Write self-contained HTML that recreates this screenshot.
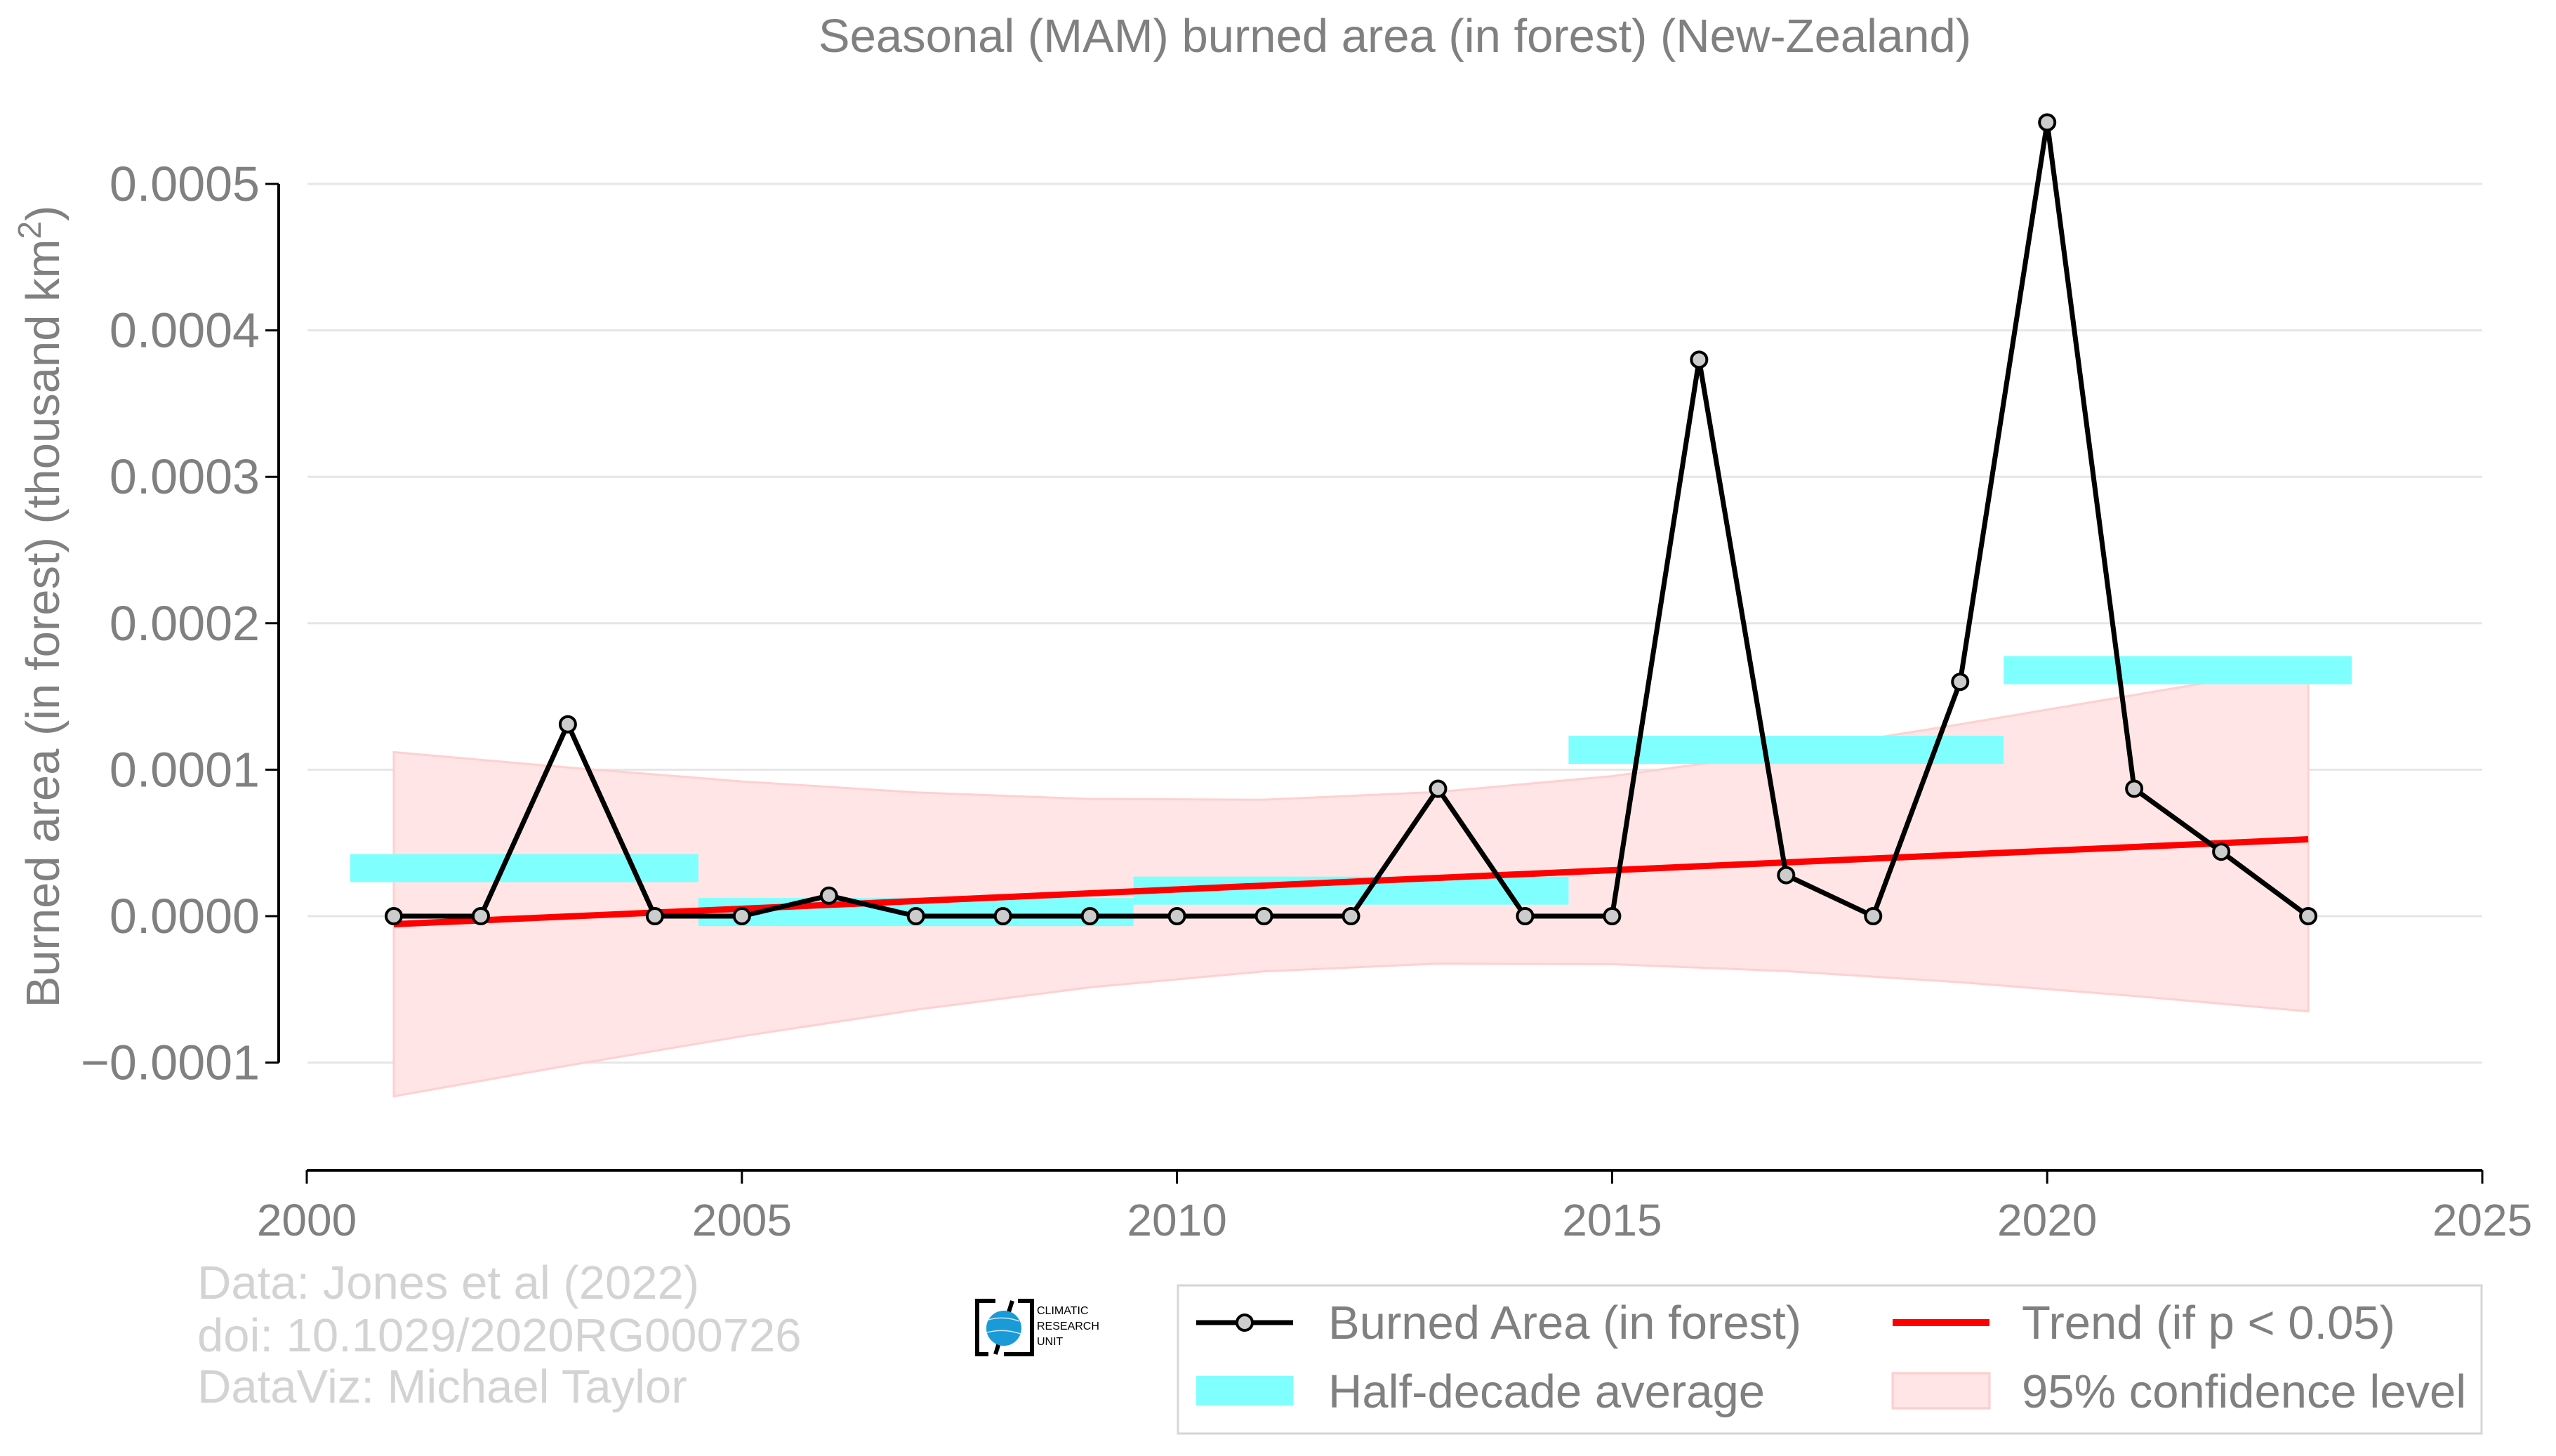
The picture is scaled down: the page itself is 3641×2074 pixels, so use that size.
<!DOCTYPE html>
<html><head><meta charset="utf-8"><style>
html,body{margin:0;padding:0;background:#fff}
svg{display:block;font-family:"Liberation Sans",Arial,sans-serif}
</style></head><body>
<svg id="chart" width="3641" height="2074" viewBox="0 0 3641 2074" xmlns="http://www.w3.org/2000/svg">
<rect width="3641" height="2074" fill="#fff"/>
<text x="1987" y="74" font-size="67" fill="#808080" text-anchor="middle">Seasonal (MAM) burned area (in forest) (New-Zealand)</text>
<g id="grid"></g>
<g id="band"></g>
<g id="halfdec"></g>
<g id="trend"></g>
<g id="series"></g>
<g id="axes"></g>
<text transform="translate(84,864) rotate(-90)" font-size="67" fill="#808080" text-anchor="middle">Burned area (in forest) (thousand km<tspan baseline-shift="super" font-size="46">2</tspan>)</text>
<g font-size="67" fill="#d3d3d3">
<text x="281" y="1850">Data: Jones et al (2022)</text>
<text x="281" y="1925">doi: 10.1029/2020RG000726</text>
<text x="281" y="1998">DataViz: Michael Taylor</text>
</g>
<g>
<path d="M1418 1853 H1392 V1929 H1408 M1442 1853 L1418 1929 M1450 1853 H1470 V1929 H1430" fill="none" stroke="#000" stroke-width="6"/>
<circle cx="1430" cy="1892" r="25" fill="#1a9ad6"/>
<path d="M1408 1880 Q1430 1874 1452 1882 M1406 1898 Q1430 1892 1454 1900" stroke="#cfeaf7" stroke-width="1.5" fill="none"/>
<text x="1477" y="1872" font-size="16" fill="#000">CLIMATIC</text>
<text x="1477" y="1894" font-size="16" fill="#000">RESEARCH</text>
<text x="1477" y="1916" font-size="16" fill="#000">UNIT</text>
</g>
<g>
<rect x="1678" y="1831" width="1857" height="211" fill="#fff" stroke="#d6d6d6" stroke-width="3"/>
<g>
<line x1="1704" y1="1884" x2="1842" y2="1884" stroke="#000" stroke-width="7"/>
<circle cx="1773" cy="1884" r="11" fill="#cccccc" stroke="#000" stroke-width="4"/>
<text x="1892" y="1907" font-size="67" fill="#808080">Burned Area (in forest)</text>
</g>
<g>
<line x1="2696" y1="1884" x2="2834" y2="1884" stroke="#ff0000" stroke-width="10"/>
<text x="2880" y="1907" font-size="67" fill="#808080">Trend (if p &lt; 0.05)</text>
</g>
<g>
<rect x="1704" y="1960" width="138" height="42" fill="#80ffff"/>
<text x="1892" y="2005" font-size="67" fill="#808080">Half-decade average</text>
</g>
<g>
<rect x="2696" y="1956" width="138" height="50" fill="#ffe5e5" stroke="#ffcccc" stroke-width="3"/>
<text x="2880" y="2005" font-size="67" fill="#808080">95% confidence level</text>
</g>
</g>
</svg>
<script>
const years = [2001,2002,2003,2004,2005,2006,2007,2008,2009,2010,2011,2012,2013,2014,2015,2016,2017,2018,2019,2020,2021,2022,2023];
const burned = [0,0,0.000131,0,0,0.000014,0,0,0,0,0,0,0.000087,0,0,0.00038,0.000028,0,0.00016,0.000542,0.000087,0.000044,0];
const halfStart = [2000.5,2004.5,2009.5,2014.5,2019.5];
const halfEnd = [2004.5,2009.5,2014.5,2019.5,2023.5];
const halfAvg = [0.0000328,0.0000028,0.0000174,0.0001136,0.000168];
const trendYears = [2001,2023];
const trendVals = [-0.0000055,0.0000525];
const bandYears = [2001,2003,2005,2007,2009,2011,2013,2015,2017,2019,2021,2023];
const bandUpper = [0.000112,0.0001015,0.000092,0.0000845,0.00008,0.0000795,0.0000848,0.0000956,0.000112,0.000131,0.000151,0.000171];
const bandLower = [-0.000123,-0.000102,-0.000082,-0.0000639,-0.0000486,-0.0000377,-0.0000324,-0.0000328,-0.0000375,-0.0000451,-0.0000545,-0.000065];
const yTicks = [-0.0001,0,0.0001,0.0002,0.0003,0.0004,0.0005];
const yTickLabels = ["\u22120.0001","0.0000","0.0001","0.0002","0.0003","0.0004","0.0005"];
const xTicks = [2000,2005,2010,2015,2020,2025];
const xTickLabels = ["2000","2005","2010","2015","2020","2025"];

const NS = "http://www.w3.org/2000/svg";
const X = v => 437 + (v - 2000) * (3536 - 437) / 25;
const Y = v => 1305 - v * 2086000;
function mk(tag, attrs, parent) {
  const e = document.createElementNS(NS, tag);
  for (const k in attrs) e.setAttribute(k, attrs[k]);
  document.getElementById(parent).appendChild(e);
  return e;
}
yTicks.forEach((t) => {
  const g = mk("line", {x1: 438, x2: 3536, y1: Y(t), y2: Y(t), stroke: "#e6e6e6", "stroke-width": 3}, "grid");
  
  
});
let d = "";
bandYears.forEach((yr, i) => { d += (i ? "L" : "M") + X(yr) + " " + Y(bandUpper[i]) + " "; });
for (let i = bandYears.length - 1; i >= 0; i--) d += "L" + X(bandYears[i]) + " " + Y(bandLower[i]) + " ";
d += "Z";
const band = mk("path", {d: d, fill: "#ffe5e5", stroke: "#ffd0d0", "stroke-width": 3}, "band");


halfAvg.forEach((v, i) => {
  const r = mk("rect", {x: X(halfStart[i]), y: Y(v) - 20, width: X(halfEnd[i]) - X(halfStart[i]), height: 40, fill: "#80ffff"}, "halfdec");
  
  
});
const tl = mk("line", {x1: X(trendYears[0]), y1: Y(trendVals[0]), x2: X(trendYears[1]), y2: Y(trendVals[1]), stroke: "#ff0000", "stroke-width": 9}, "trend");


const pts = years.map((yr, i) => X(yr) + "," + Y(burned[i])).join(" ");
const pl = mk("polyline", {points: pts, fill: "none", stroke: "#000", "stroke-width": 7, "stroke-linejoin": "round"}, "series");


years.forEach((yr, i) => {
  const c = mk("circle", {cx: X(yr), cy: Y(burned[i]), r: 11, fill: "#cccccc", stroke: "#000", "stroke-width": 4}, "series");
  
  
});
const ya = mk("line", {x1: 397, x2: 397, y1: Y(0.0005), y2: Y(-0.0001), stroke: "#000", "stroke-width": 4}, "axes");


yTicks.forEach((t, i) => {
  const tk = mk("line", {x1: 378, x2: 397, y1: Y(t), y2: Y(t), stroke: "#000", "stroke-width": 3}, "axes");
  
  
  const lb = mk("text", {x: 370, y: Y(t) + 24, "font-size": 70, fill: "#808080", "text-anchor": "end"}, "axes");
  lb.textContent = yTickLabels[i];
  
  
});
const xa = mk("line", {x1: 437, x2: 3536, y1: 1667, y2: 1667, stroke: "#000", "stroke-width": 4}, "axes");


xTicks.forEach((t, i) => {
  const tk = mk("line", {x1: X(t), x2: X(t), y1: 1667, y2: 1686, stroke: "#000", "stroke-width": 3}, "axes");
  
  
  const lb = mk("text", {x: X(t), y: 1760, "font-size": 64, fill: "#808080", "text-anchor": "middle"}, "axes");
  lb.textContent = xTickLabels[i];
  
  
});
</script>
</body></html>
